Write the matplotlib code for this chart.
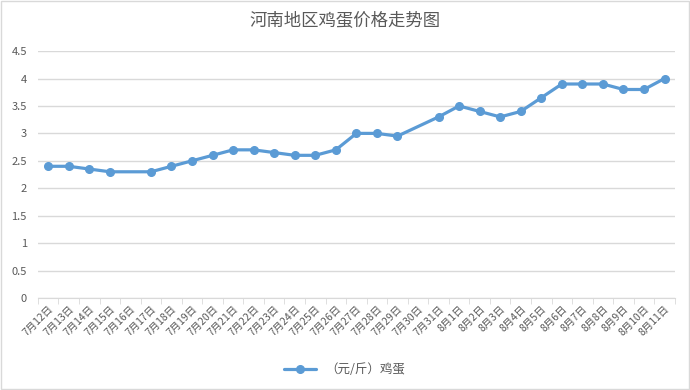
import numpy as np
import matplotlib
matplotlib.use('Agg')
import matplotlib.pyplot as plt

plt.rcParams['font.family'] = ['Noto Sans CJK SC', 'DejaVu Sans']

# Data (None = no value for that day)
dates = ["7月12日", "7月13日", "7月14日", "7月15日", "7月16日", "7月17日", "7月18日",
         "7月19日", "7月20日", "7月21日", "7月22日", "7月23日", "7月24日", "7月25日",
         "7月26日", "7月27日", "7月28日", "7月29日", "7月30日", "7月31日", "8月1日",
         "8月2日", "8月3日", "8月4日", "8月5日", "8月6日", "8月7日", "8月8日",
         "8月9日", "8月10日", "8月11日"]
prices = [2.4, 2.4, 2.35, 2.3, None, 2.3, 2.4,
          2.5, 2.6, 2.7, 2.7, 2.65, 2.6, 2.6,
          2.7, 3.0, 3.0, 2.95, None, 3.3, 3.5,
          3.4, 3.3, 3.4, 3.65, 3.9, 3.9, 3.9,
          3.8, 3.8, 4.0]
series_name = "（元/斤）鸡蛋"
title = "河南地区鸡蛋价格走势图"

fig = plt.figure(figsize=(6.9, 3.9), dpi=100)
ax = fig.add_axes([0.055, 0.236, 0.923, 0.633])

# connect across empty days, like the spreadsheet does
xs = [i for i, v in enumerate(prices) if v is not None]
ys = [v for v in prices if v is not None]
ax.plot(xs, ys, color='#5B9BD5', linewidth=2.3, marker='o', markersize=5.5,
        label=series_name, solid_capstyle='round')

ax.set_ylim(0, 4.5)
ax.set_yticks(np.arange(0, 4.51, 0.5))
ax.set_yticklabels(['0', '0.5', '1', '1.5', '2', '2.5', '3', '3.5', '4', '4.5'])
ax.set_xlim(-0.5, len(dates) - 0.5)
ax.set_xticks(range(len(dates)))
ax.set_xticklabels(dates, rotation=45, ha='right', rotation_mode='anchor')
ax.set_xticks(np.arange(-0.5, len(dates), 1), minor=True)
ax.tick_params(axis='x', which='major', length=0, pad=4, labelsize=7.5, labelcolor='#595959')
ax.tick_params(axis='x', which='minor', length=4, color='#D9D9D9', direction='out')
ax.tick_params(axis='y', length=0, labelsize=8, labelcolor='#595959', pad=8)

ax.grid(axis='y', color='#D9D9D9', linewidth=1)
ax.set_axisbelow(True)
for s in ['top', 'right', 'left']:
    ax.spines[s].set_visible(False)
ax.spines['bottom'].set_color('#D9D9D9')

fig.suptitle(title, y=0.97, fontsize=12.5, color='#595959')
fig.legend(loc='center', bbox_to_anchor=(0.5, 0.052), frameon=False,
           fontsize=9, labelcolor='#595959', handlelength=2.5)

# light border round the whole chart
fig.patches.append(plt.Rectangle((0.001, 0.002), 0.997, 0.995, transform=fig.transFigure,
                                 fill=False, edgecolor='#D9D9D9', linewidth=1))

fig.savefig('out.png', dpi=100)
